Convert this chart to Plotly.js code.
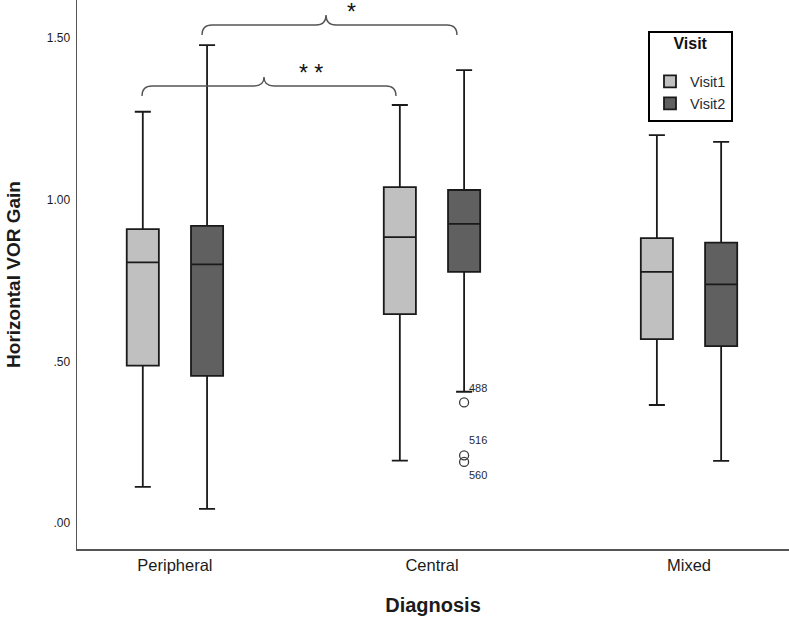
<!DOCTYPE html>
<html>
<head>
<meta charset="utf-8">
<script src="https://cdn.plot.ly/plotly-3.0.1.min.js"></script>
<style>
  html, body { margin: 0; padding: 0; background: #ffffff; }
  #chart { width: 789px; height: 618px; }
</style>
</head>
<body>
<div id="chart"></div>
<script>
// ---- data ----
const categories = ['Peripheral', 'Central', 'Mixed'];

const visit1Upper  = [1.272, 1.293, 1.200];
const visit1Q3     = [0.909, 1.039, 0.881];
const visit1Median = [0.806, 0.884, 0.777];
const visit1Q1     = [0.487, 0.646, 0.569];
const visit1Lower  = [0.112, 0.193, 0.365];

const visit2Upper  = [1.478, 1.401, 1.179];
const visit2Q3     = [0.919, 1.030, 0.867];
const visit2Median = [0.800, 0.925, 0.738];
const visit2Q1     = [0.455, 0.777, 0.547];
const visit2Lower  = [0.044, 0.406, 0.192];

const outlierCategory = 'Central';
const visit2CentralOutliers = [0.373, 0.209, 0.189];
const outlierLabels = ['488', '516', '560'];

const yTickVals = [0, 0.5, 1.0, 1.5];
const yTickText = ['.00', '.50', '1.00', '1.50'];

// ---- layout geometry (pixels of the 789x618 page) ----
const W = 789, H = 618;
const M = {l: 77, r: 0, t: 0, b: 69};
const plotW = W - M.l - M.r, plotH = H - M.t - M.b;
const px = X => (X - M.l) / plotW;
const py = Y => (plotH + M.t - Y) / plotH;

const BOXGAP = 0.5, BOXGROUPGAP = 0.5;
const xRange = [-0.381, 2.389];
// centre offset of the second box of a two-box group, in category units
const visit2Offset = (1 - BOXGAP) / 4;

function bracePath(x0, x1, xm, yEnd, yLine, yTip) {
  const r = 10;
  const pts = [
    'M', px(x0), py(yEnd),
    'Q', px(x0), py(yLine), px(x0 + r), py(yLine),
    'L', px(xm - r), py(yLine),
    'Q', px(xm), py(yLine), px(xm), py(yTip),
    'Q', px(xm), py(yLine), px(xm + r), py(yLine),
    'L', px(x1 - r), py(yLine),
    'Q', px(x1), py(yLine), px(x1), py(yEnd)
  ];
  return pts.join(' ').replace(/ ([\d.-]+) ([\d.-]+)/g, ' $1,$2');
}

const boxLine = {color: '#1a1a1a', width: 1.8};
const FONT = 'Arial, "Liberation Sans", sans-serif';

const traces = [
  {
    type: 'box', name: 'Visit1',
    x: categories,
    q1: visit1Q1, median: visit1Median, q3: visit1Q3,
    lowerfence: visit1Lower, upperfence: visit1Upper,
    fillcolor: '#c0c0c0', line: boxLine,
    whiskerwidth: 0.5, boxpoints: false, hoverinfo: 'skip'
  },
  {
    type: 'box', name: 'Visit2',
    x: categories,
    q1: visit2Q1, median: visit2Median, q3: visit2Q3,
    lowerfence: visit2Lower, upperfence: visit2Upper,
    fillcolor: '#606060', line: boxLine,
    whiskerwidth: 0.5, boxpoints: false, hoverinfo: 'skip'
  },
  {
    type: 'scatter', mode: 'markers', name: 'Visit2 outliers',
    xaxis: 'x2', yaxis: 'y',
    x: visit2CentralOutliers.map(() => categories.indexOf(outlierCategory) + visit2Offset),
    y: visit2CentralOutliers,
    marker: {symbol: 'circle-open', size: 9, color: '#3a3a3a', line: {width: 1.3}},
    showlegend: false, hoverinfo: 'skip'
  }
];

const annotations = outlierLabels.map((t, i) => ({
  xref: 'x2', yref: 'y',
  x: categories.indexOf(outlierCategory) + visit2Offset, y: visit2CentralOutliers[i],
  text: t, showarrow: false, xanchor: 'left', yanchor: 'middle',
  xshift: 3, yshift: [14, 15, -13][i],
  font: {family: FONT, size: 11, color: '#1f2a33'}
}));

annotations.push(
  {xref: 'paper', yref: 'paper', x: px(297), y: py(58), text: '* *', showarrow: false,
   font: {family: FONT, size: 23, color: '#111'}},
  {xref: 'paper', yref: 'paper', x: px(351), y: py(-3), text: '*', showarrow: false,
   font: {family: FONT, size: 23, color: '#111'}}
);

const shapes = [
  {type: 'path', xref: 'paper', yref: 'paper',
   path: bracePath(142, 396, 264, 96, 86, 77), line: {color: '#555', width: 1.4}},
  {type: 'path', xref: 'paper', yref: 'paper',
   path: bracePath(202, 457, 326, 35, 25, 15), line: {color: '#555', width: 1.4}}
];

const layout = {
  width: W, height: H,
  margin: M,
  paper_bgcolor: '#ffffff', plot_bgcolor: '#ffffff',
  font: {family: FONT, color: '#1b1b1b'},
  boxmode: 'group', boxgap: BOXGAP, boxgroupgap: BOXGROUPGAP,
  showlegend: true,
  legend: {
    x: px(648), y: py(31), xanchor: 'left', yanchor: 'top',
    bordercolor: '#000', borderwidth: 2, bgcolor: '#ffffff',
    title: {text: '<span style="font-size:16px"><b>Visit</b></span><br> ', side: 'top center',
            font: {size: 12.5, color: '#111'}},
    font: {size: 14.5, color: '#1f2a33'},
    itemwidth: 30, traceorder: 'normal', tracegroupgap: 0
  },
  xaxis: {
    type: 'category', categoryorder: 'array', categoryarray: categories,
    range: xRange,
    showline: true, linecolor: '#555', linewidth: 1.5,
    showgrid: false, zeroline: false, ticks: '', ticklabelstandoff: 1,
    tickfont: {size: 16.5, color: '#1b1b1b'},
    title: {text: '<b>Diagnosis</b>', font: {size: 20, color: '#1b1b1b'}, standoff: 24}
  },
  xaxis2: {
    overlaying: 'x', range: xRange, visible: false, showgrid: false, zeroline: false
  },
  yaxis: {
    range: [-0.0804, 1.6177],
    tickvals: yTickVals, ticktext: yTickText,
    showline: true, linecolor: '#555', linewidth: 1.5,
    showgrid: false, zeroline: false, ticks: '', ticklabelstandoff: 3,
    tickfont: {size: 12, color: '#1b1b1b'},
    title: {text: '<b>Horizontal VOR Gain</b>', font: {size: 19, color: '#1b1b1b'}, standoff: 21}
  },
  shapes: shapes,
  annotations: annotations
};

Plotly.newPlot('chart', traces, layout, {displayModeBar: false, staticPlot: true});
</script>
</body>
</html>
